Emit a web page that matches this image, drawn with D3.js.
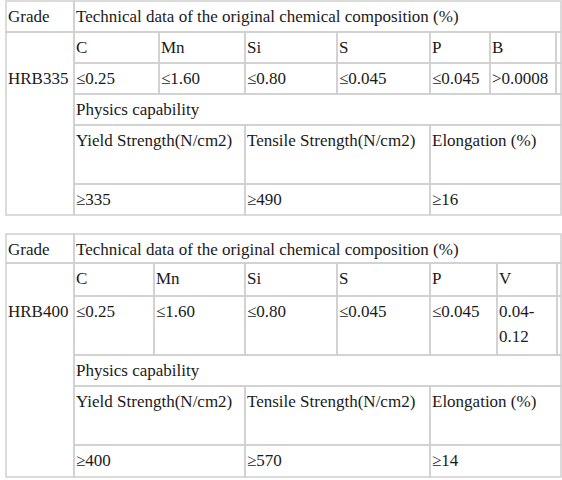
<!DOCTYPE html>
<html><head><meta charset="utf-8">
<script src="https://cdn.jsdelivr.net/npm/d3@7"></script>
<style>body{margin:0;background:#fff}text{font-family:"Times New Roman","Liberation Serif","DejaVu Serif",serif;font-size:17px;fill:#1a1a1a}</style>
</head><body><svg id="c" width="562" height="480"></svg>
<script>
var grades = ["HRB335", "HRB400"];
var elements = [["C","Mn","Si","S","P","B"], ["C","Mn","Si","S","P","V"]];
var chemValues = [["≤0.25","≤1.60","≤0.80","≤0.045","≤0.045",">0.0008"],
                  ["≤0.25","≤1.60","≤0.80","≤0.045","≤0.045","0.04-\n0.12"]];
var physLabels = ["Yield Strength(N/cm2)","Tensile Strength(N/cm2)","Elongation (%)"];
var physValues = [["≥335","≥490","≥16"], ["≥400","≥570","≥14"]];

var svg = d3.select("#c");
// layout of the two tables
var layouts = [
  {rows:[1,32,63,94,125,184,215], cols:[6,74,159,245,337,430,490,556,561], physCols:[74,245,430,561]},
  {rows:[234,263,296,355,386,445,477], cols:[6,74,154,245,337,430,497,557,561], physCols:[74,245,430,561]}
];

function cell(g, x0, y0, x1, y1, txt) {
  g.append("rect").attr("x", x0).attr("y", y0).attr("width", x1 - x0).attr("height", y1 - y0)
    .attr("fill", "none").attr("stroke", "#cfcfcf").attr("stroke-width", 1.5);
  if (txt == null) return;
  var t = g.append("text").attr("x", x0 + 2).attr("y", y0 + 21);
  txt.split("\n").forEach(function(s, i) {
    t.append("tspan").attr("x", x0 + 2).attr("dy", i ? 25 : 0).text(s);
  });
}

grades.forEach(function(grade, k) {
  var L = layouts[k], r = L.rows, c = L.cols, g = svg.append("g");
  cell(g, c[0], r[0], c[1], r[1], "Grade");
  cell(g, c[0], r[1], c[1], r[6], null);
  g.append("text").attr("x", c[0] + 2).attr("y", r[2] + 21).text(grade);
  cell(g, c[1], r[0], c[8], r[1], "Technical data of the original chemical composition (%)");
  elements[k].forEach(function(e, i) { cell(g, c[i + 1], r[1], c[i + 2], r[2], e); });
  cell(g, c[7], r[1], c[8], r[2], null);
  chemValues[k].forEach(function(v, i) { cell(g, c[i + 1], r[2], c[i + 2], r[3], v); });
  cell(g, c[7], r[2], c[8], r[3], null);
  cell(g, c[1], r[3], c[8], r[4], "Physics capability");
  var pc = L.physCols;
  physLabels.forEach(function(p, i) { cell(g, pc[i], r[4], pc[i + 1], r[5], p); });
  physValues[k].forEach(function(v, i) { cell(g, pc[i], r[5], pc[i + 1], r[6], v); });
});
</script></body></html>
